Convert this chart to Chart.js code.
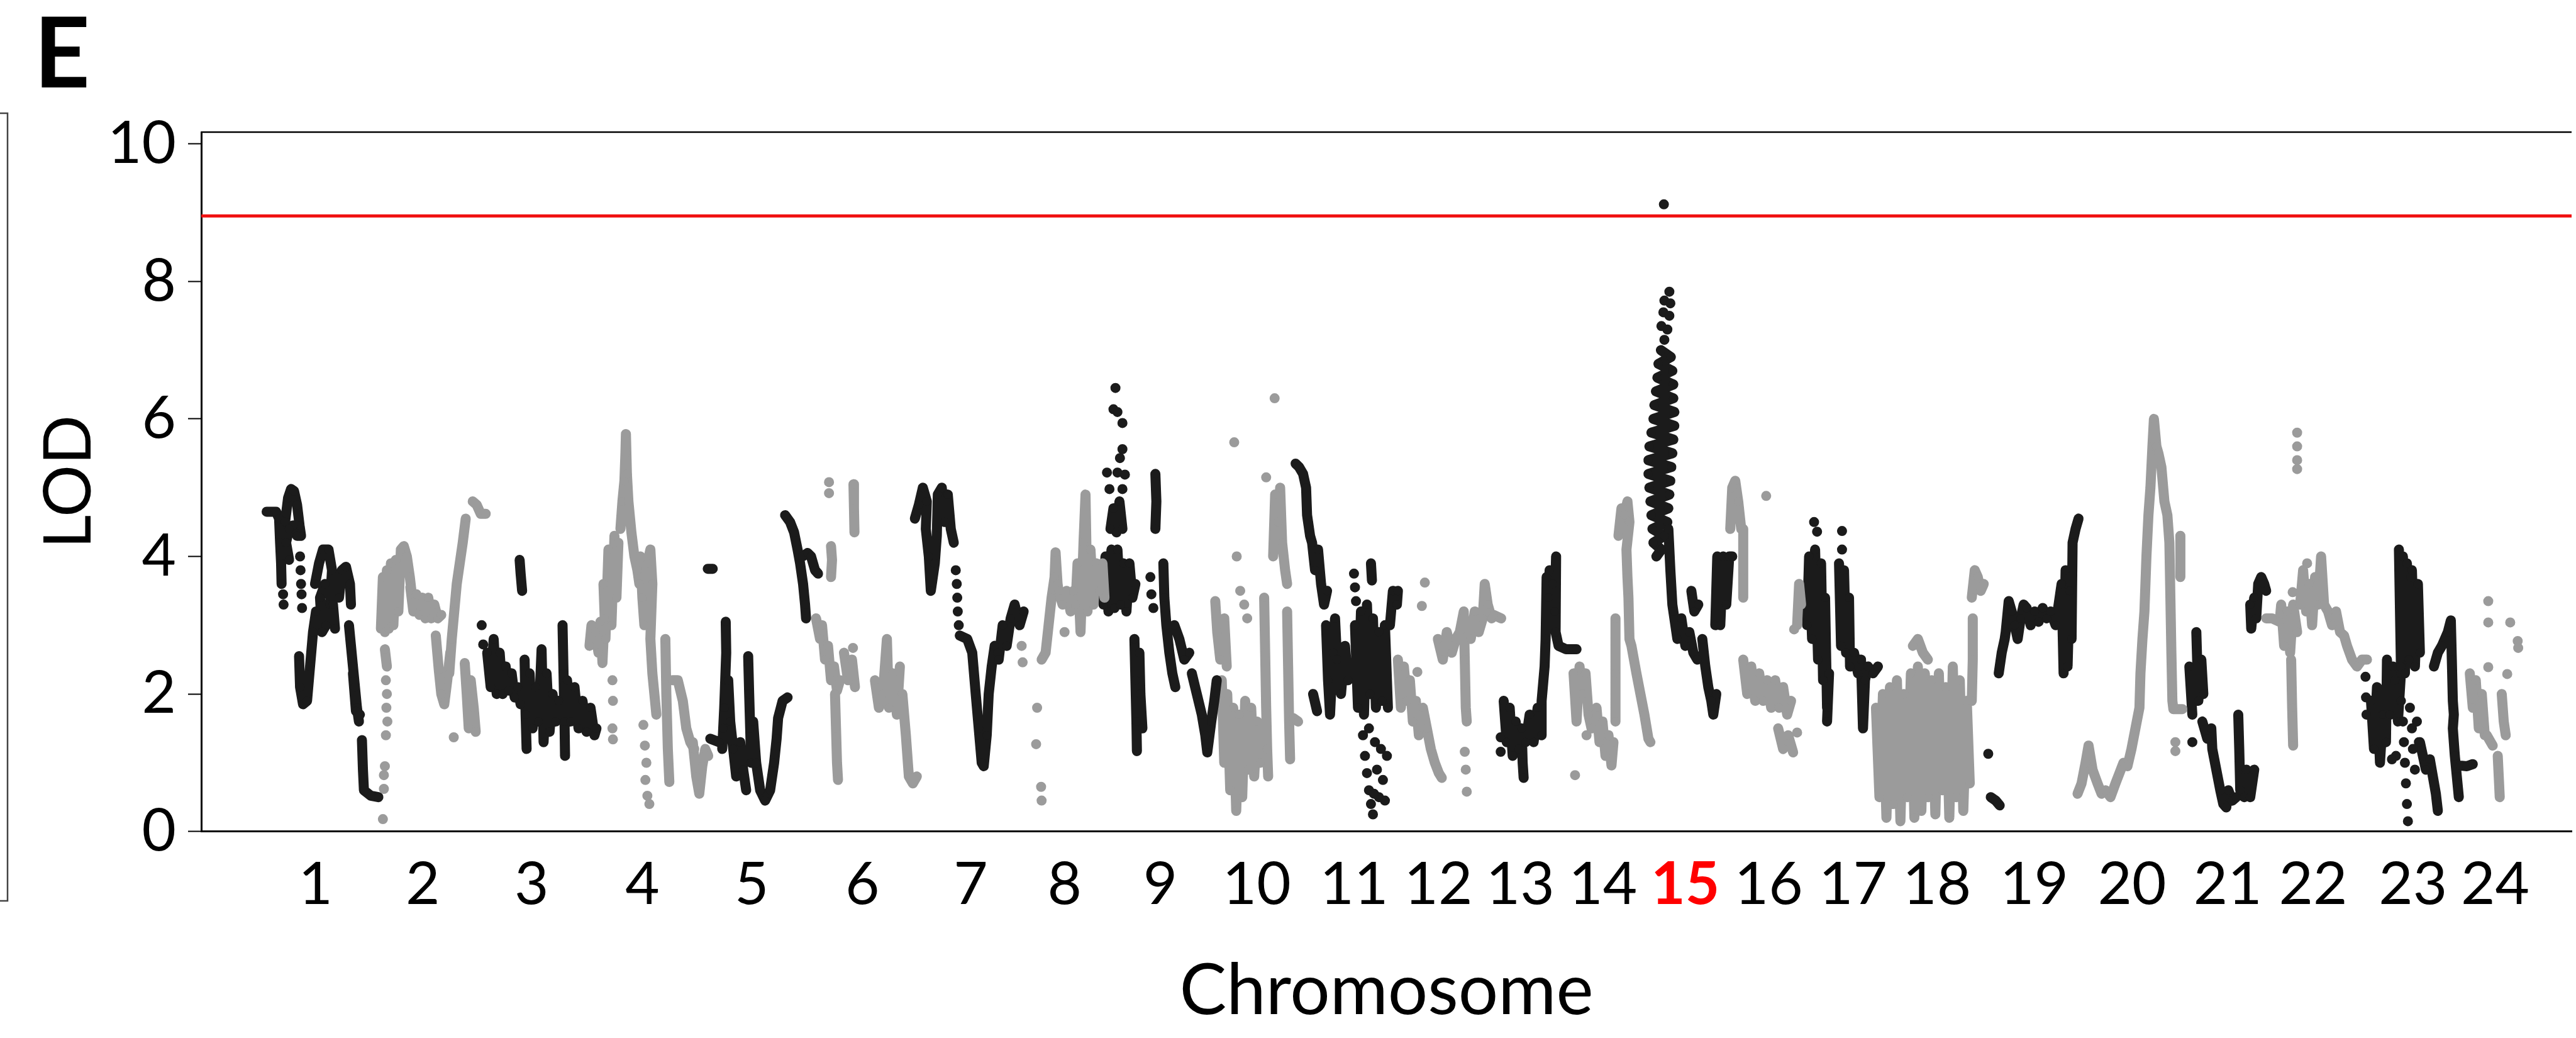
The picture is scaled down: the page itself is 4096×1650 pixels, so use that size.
<!DOCTYPE html>
<html>
<head>
<meta charset="utf-8">
<script src="https://cdn.jsdelivr.net/npm/chart.js@4.4.1/dist/chart.umd.min.js"></script>
<style>
  html, body { margin: 0; padding: 0; background: #fff; overflow: hidden; }
  canvas { display: block; }
</style>
</head>
<body>
<canvas id="lod" width="4096" height="1650"></canvas>
<script>
// genome position (cumulative, axis starts at 0) and LOD score per marker; null = gap in the trace
const chr1 = [[131,4.65],[150,4.65],[156,4.55],[158,4.2],[160,3.9],[161,3.6],null,[164,3.45],null,[165,3.3],null,
  [168,4.5],[174,4.85],[180,4.98],[186,4.95],[192,4.75],[197,4.45],[200,4.3],[192,4.3],[184,4.45],[176,4.4],[170,4.2],[176,3.95],null,
  [198,4.0],null,[199,3.8],null,[200,3.6],null,[201,3.45],null,[202,3.25],null,
  [196,2.55],[198,2.1],[204,1.85],[212,1.9],[218,2.4],[224,2.9],[230,3.2],null,
  [228,3.6],[236,3.9],[244,4.1],[255,4.1],[262,3.8],[258,3.3],[250,3.0],[242,2.9],[238,3.4],[248,3.6],[264,3.3],[268,2.95],null,
  [276,3.4],[282,3.8],[290,3.85],[298,3.6],[300,3.3],null,
  [296,3.0],[300,2.7],[304,2.4],[308,2.1],[312,1.8],[316,1.6],null,[304,2.3],[310,1.75],[318,1.7],null,
  [322,1.33],[324,0.9],[326,0.6],[340,0.52],[355,0.5]];
const chr2 = [[368,2.65],[372,2.4],null,[370,2.2],null,[372,2.0],null,[371,1.8],null,[373,1.6],null,[370,1.4],null,[368,0.95],null,[366,0.82],null,[366,0.62],null,[364,0.18],null,
  [360,2.95],[364,3.7],[368,2.9],[372,3.8],[376,2.95],[380,3.9],[385,3.0],[390,3.95],[395,3.2],[400,4.1],[406,4.15],[412,4.0],[418,3.7],[422,3.45],null,
  [419,3.55],[425,3.2],[431,3.45],[437,3.15],[443,3.4],[449,3.1],[455,3.4],[461,3.1],[467,3.3],[474,3.1],[481,3.15],null,
  [470,2.85],[476,2.35],[481,2.0],[487,1.85],[493,2.2],[499,2.6],null,[506,1.37],null,
  [497,2.3],[502,2.8],[507,3.2],[512,3.6],[518,3.9],[524,4.2],[530,4.55],null,
  [528,2.45],[532,2.0],[536,1.5],[540,2.2],[546,1.8],[550,1.45],null,
  [544,4.8],[552,4.75],[560,4.62],[570,4.62]];
const chr3 = [[562,3.0],null,[565,2.72],null,
  [573,2.6],[580,2.1],[586,2.8],[592,2.0],[598,2.6],[604,2.0],[610,2.4],[616,2.05],[622,2.3],[628,1.95],[634,2.1],[640,1.85],null,
  [638,3.95],[640,3.75],[643,3.5],null,
  [648,2.5],[650,1.7],[652,1.2],null,[658,2.3],[664,1.5],[670,2.1],[676,1.6],[682,2.65],[686,1.3],[692,2.3],[698,1.45],[704,2.0],[710,1.6],[716,1.9],null,
  [724,3.0],[726,2.3],[728,1.6],[729,1.1],null,
  [733,2.2],[740,1.6],[748,2.1],[756,1.5],[764,1.9],[772,1.45],[780,1.8],[788,1.4],[792,1.5]];
const chr4 = [[778,2.7],[782,3.0],[790,2.9],[796,2.6],[800,3.05],[804,2.45],[808,3.1],null,
  [806,3.6],[810,2.8],[816,4.1],[822,3.0],[828,4.3],[832,3.4],[836,4.2],null,
  [824,2.2],null,[825,1.9],null,[824,1.5],null,[825,1.34],null,
  [840,4.4],[844,4.8],[848,5.1],[850,5.5],[851,5.78],[853,5.2],[856,4.8],[862,4.35],[868,4.0],[874,3.8],[878,3.6],null,
  [880,4.0],[884,3.4],[888,3.0],[894,3.9],[900,4.1],[904,3.6],[900,2.8],[904,2.3],[908,2.0],[912,1.7],null,
  [886,1.55],null,[889,1.25],null,[892,1.0],null,[890,0.75],null,[894,0.52],null,[898,0.4],null,
  [930,2.8],[932,2.0],[935,1.2],[938,0.72],null,
  [944,2.2],[955,2.2],[965,1.9],[972,1.5],[980,1.3],[988,1.2],null,
  [985,1.3],[992,0.8],[998,0.55],[1004,0.95],[1010,1.2],[1016,1.1]];
const chr5 = [[1015,3.82],[1025,3.82],null,[1020,1.35],[1038,1.3],null,
  [1051,3.05],[1052,2.6],[1050,2.2],[1048,1.8],[1046,1.5],[1044,1.2],null,
  [1056,2.2],[1060,1.6],[1066,1.2],[1072,0.8],[1080,1.3],[1086,0.9],[1092,0.6],null,
  [1096,2.55],[1098,2.0],[1100,1.5],[1102,1.0],null,
  [1106,1.6],[1112,1.0],[1120,0.6],[1130,0.45],[1140,0.6],[1148,1.0],[1153,1.35],[1156,1.65],[1165,1.9],[1175,1.95],null,
  [1170,4.6],[1180,4.5],[1188,4.35],[1195,4.1],[1200,3.9],[1206,3.6],[1210,3.3],[1212,3.1],null,
  [1205,4.0],[1215,4.05],[1222,4.0],[1230,3.8],[1236,3.75]];
const chr6 = [[1232,3.1],[1240,2.8],[1244,3.0],[1250,2.5],[1256,2.7],[1262,2.2],[1268,2.4],[1274,2.05],[1280,2.2],null,
  [1258,5.08],null,[1258,4.92],null,[1262,4.15],[1264,3.95],[1262,3.7],null,
  [1270,2.0],[1272,1.5],[1274,1.0],[1276,0.75],null,
  [1288,2.6],[1296,2.2],[1304,2.5],[1310,2.1],null,
  [1307,5.05],[1308,4.7],[1309,4.35],null,[1306,2.67],null,
  [1350,2.2],[1358,1.8],[1366,2.0],[1374,2.8],[1378,1.8],[1386,2.3],[1394,1.7],[1400,2.4],null,
  [1405,2.0],[1412,1.4],[1418,0.8],[1426,0.7],[1434,0.8]];
const chr7 = [[1430,4.55],[1438,4.75],[1446,5.0],[1454,4.8],[1452,4.4],[1458,4.0],[1462,3.5],[1470,3.9],[1474,4.3],[1476,4.9],[1484,5.0],[1490,4.5],[1496,4.9],[1502,4.4],[1508,4.2],null,
  [1512,3.8],null,[1514,3.6],null,[1515,3.4],null,[1516,3.2],null,[1518,3.0],null,
  [1520,2.85],[1535,2.8],[1545,2.6],[1552,2.0],[1558,1.5],[1564,1.0],[1568,0.95],[1574,1.4],[1578,2.0],[1584,2.4],[1590,2.7],[1596,2.6],
  [1598,2.5],[1606,3.0],[1614,2.7],[1622,3.1],[1630,3.3],[1640,3.0],[1648,3.2]];
const chr8 = [[1644,2.7],null,[1646,2.46],null,[1675,1.8],null,[1673,1.27],null,[1683,0.65],null,[1684,0.45],null,
  [1684,2.5],[1692,2.6],[1698,3.0],[1704,3.4],[1710,3.7],[1712,4.06],[1716,3.6],[1718,3.5],[1726,3.3],[1734,3.5],[1742,3.2],[1748,3.5],null,
  [1730,2.9],null,
  [1752,3.3],[1756,3.9],[1762,2.9],[1768,4.2],[1772,4.9],[1776,3.2],[1782,4.1],[1788,3.3],[1794,3.9],[1800,3.5],[1806,3.9],[1810,3.4]];
const chr9 = [[1808,3.3],[1812,4.0],[1818,3.2],[1824,4.1],[1830,3.25],[1836,4.1],[1842,3.3],[1848,3.9],[1854,3.2],[1860,3.9],[1866,3.4],[1872,3.6],null,
  [1822,4.4],[1828,4.7],[1834,4.35],[1840,4.8],[1846,4.4],null,
  [1832,6.45],null,[1828,6.14],null,[1836,6.1],null,[1846,5.94],null,[1846,5.56],null,[1841,5.43],null,[1836,5.22],null,[1851,5.19],null,[1815,5.22],null,[1820,4.98],null,[1846,4.98],null,
  [1870,2.8],[1872,2.2],[1874,1.6],[1875,1.17],null,[1880,2.6],[1882,2.0],[1886,1.5],null,
  [1912,5.2],[1914,4.8],[1912,4.4],null,[1902,3.7],null,[1904,3.45],null,[1908,3.25],null,
  [1928,3.9],[1930,3.4],[1934,3.0],[1940,2.6],[1946,2.3],[1952,2.1],null,
  [1950,3.0],[1960,2.8],[1970,2.5],[1980,2.6],null,
  [1985,2.3],[1995,2.0],[2005,1.7],[2012,1.4],[2016,1.15],[2024,1.6],[2030,1.9],[2035,2.2]];
const chr10 = [[2032,3.35],[2036,2.9],[2042,2.5],[2050,3.1],[2055,2.4],null,
  [2045,2.2],[2050,1.0],[2056,2.0],[2062,0.6],[2068,1.8],[2074,0.3],[2080,1.7],[2086,0.5],[2092,1.9],[2098,0.9],[2104,1.8],[2110,0.8],[2116,1.6],[2122,1.0],null,
  [2070,5.66],null,[2075,4.0],null,[2082,3.5],null,[2090,3.3],null,[2096,3.1],null,
  [2130,3.4],[2132,2.6],[2134,1.8],[2136,1.2],[2138,0.8],null,
  [2134,5.15],null,[2151,6.3],null,
  [2148,4.0],[2152,4.9],[2158,4.5],[2162,5.0],[2166,4.2],[2172,3.8],[2176,3.6],null,
  [2176,3.2],[2178,2.4],[2180,1.6],[2182,1.05],null,[2188,1.65],[2198,1.6]];
const chr11 = [[2193,5.35],[2200,5.3],[2208,5.2],[2214,5.0],[2216,4.6],[2222,4.3],[2226,4.2],[2232,3.8],[2238,4.1],[2244,3.6],[2250,3.3],[2256,3.5],null,
  [2228,2.0],[2236,1.75],null,
  [2254,3.0],[2258,2.2],[2262,1.7],[2268,2.6],[2272,3.1],[2276,2.5],[2284,2.0],[2292,2.7],[2298,2.2],null,
  [2310,3.75],null,[2312,3.55],null,[2314,3.35],null,
  [2312,3.0],[2318,1.8],[2324,3.2],[2330,1.7],[2336,3.3],[2342,2.0],[2348,3.1],[2354,1.8],[2360,2.9],[2366,1.9],[2372,3.0],[2378,1.8],null,
  [2328,1.4],null,[2332,1.1],null,[2336,0.85],null,[2340,0.6],null,[2344,0.4],null,[2348,0.25],null,[2352,1.3],null,[2356,0.9],null,
  [2360,0.5],null,[2364,1.2],null,[2368,0.75],null,[2372,0.45],null,[2376,1.1],null,[2340,1.5],null,[2350,0.55],null,
  [2344,3.9],[2346,3.65],null,[2382,3.0],[2388,3.5],[2396,3.3],[2398,3.5]];
const chr12 = [[2398,2.5],[2404,1.8],[2410,2.4],[2416,1.9],[2422,2.2],[2428,1.6],[2434,1.9],[2440,1.4],null,
  [2452,3.62],null,[2446,3.28],null,[2437,2.32],null,
  [2448,1.8],[2456,1.5],[2464,1.2],[2472,1.0],[2480,0.85],[2486,0.78],null,
  [2478,2.8],[2488,2.5],[2496,2.9],[2506,2.6],[2514,2.8],[2522,2.9],[2530,3.2],[2532,2.5],[2534,1.8],[2536,1.6],null,
  [2532,1.16],null,[2534,0.9],null,[2536,0.58],null,
  [2544,2.8],[2552,3.2],[2560,2.9],[2568,3.1],[2572,3.6],[2578,3.3],[2586,3.1],[2590,3.15],[2605,3.1]];
const chr13 = [[2604,1.37],null,[2604,1.16],null,
  [2610,1.9],[2616,1.3],[2622,1.8],[2628,1.1],[2634,1.6],[2640,1.2],[2646,1.5],[2648,1.0],[2650,0.78],null,
  [2654,1.3],[2662,1.7],[2670,1.3],[2678,1.8],[2686,1.4],[2686,1.9],[2692,2.4],[2694,2.8],[2696,3.7],[2700,3.4],[2702,3.8],[2708,3.6],[2712,3.2],[2715,4.0],
  [2714,2.9],[2720,2.7],[2735,2.65],[2750,2.65],[2756,2.65]];
const chr14 = [[2750,2.3],[2756,1.6],[2762,2.4],[2768,2.0],[2774,2.3],[2780,1.7],[2786,1.5],null,
  [2753,0.82],null,[2776,1.4],null,
  [2796,1.8],[2802,1.3],[2808,1.6],[2814,1.1],[2820,1.4],[2826,0.96],[2830,1.3],null,
  [2834,3.1],[2834,2.3],[2834,1.6],null,
  [2840,4.3],[2846,4.7],[2852,4.6],[2858,4.8],[2862,4.5],[2856,4.1],[2858,3.7],[2860,3.4],[2862,2.8],[2866,2.7],[2876,2.3],[2884,2.0],[2892,1.7],[2900,1.35],[2904,1.3]];
const chr15 = [[2931,9.12],null,
  [2942,7.85],null,[2932,7.72],null,[2944,7.68],null,[2930,7.55],null,[2942,7.5],null,[2926,7.35],null,[2938,7.3],null,[2932,7.15],null,
  [2925,7.0],[2945,6.9],[2920,6.8],[2948,6.7],[2918,6.6],[2950,6.5],[2915,6.4],[2950,6.3],[2912,6.2],[2952,6.1],[2910,6.0],[2952,5.9],[2906,5.8],[2950,5.7],
  [2902,5.6],[2948,5.5],[2900,5.4],[2946,5.3],[2900,5.2],[2944,5.1],[2902,5.0],[2942,4.9],[2904,4.8],[2940,4.7],[2906,4.6],[2938,4.5],[2908,4.4],[2932,4.3],
  [2910,4.2],[2926,4.1],[2916,4.0],null,
  [2940,4.4],[2944,3.8],[2948,3.3],[2950,3.2],[2958,2.8],[2966,3.1],[2974,2.7],[2982,2.9],[2990,2.6],[2998,2.5],null,
  [2986,3.5],[2992,3.2],[3000,3.3],null,
  [3008,2.8],[3014,2.4],[3020,2.1],[3026,1.9],[3030,1.7],[3036,2.0],null,
  [3034,3.0],[3038,4.0],[3044,3.0],[3050,4.0],[3056,3.3],[3062,4.0],[3068,4.0]];
const chr16 = [[3064,4.4],[3068,5.0],[3074,5.1],[3080,4.8],[3086,4.4],[3090,4.4],[3090,3.8],[3090,3.4],null,
  [3136,4.88],null,
  [3090,2.5],[3098,2.0],[3106,2.4],[3114,1.9],[3122,2.3],[3130,1.9],[3138,2.2],[3146,1.8],[3154,2.2],[3162,1.8],[3170,2.1],[3178,1.7],[3186,1.9],null,
  [3160,1.5],[3170,1.2],[3180,1.4],[3190,1.15],null,[3192,2.94],null,
  [3198,3.0],[3202,3.6],[3206,3.3],null,[3198,1.44]];
const chr17 = [[3232,4.5],null,[3238,4.36],null,
  [3218,3.0],[3222,4.0],[3228,2.8],[3234,4.1],[3240,2.5],[3246,3.9],[3250,2.2],[3254,3.4],[3258,1.8],[3262,2.3],[3258,1.6],null,
  [3288,4.37],null,[3288,4.1],null,
  [3282,3.9],[3286,2.7],[3292,3.8],[3296,2.6],[3302,3.4],[3304,2.4],[3312,2.6],[3320,2.3],[3326,2.5],[3330,1.5],[3334,2.2],[3340,2.4],[3350,2.3],[3360,2.4]];
const chr18 = [[3356,1.8],[3363,0.5],[3370,2.0],[3377,0.2],[3384,2.1],[3391,0.4],[3398,2.2],[3405,0.15],[3412,2.0],[3419,0.5],[3426,2.3],[3433,0.2],[3440,2.4],
  [3447,0.3],[3454,2.3],[3461,0.5],[3468,2.2],[3475,0.25],[3482,2.3],[3489,0.6],[3496,2.1],[3503,0.2],[3510,2.4],[3517,0.5],[3524,2.2],[3531,0.3],[3538,1.9],[3544,0.7],null,
  [3430,2.7],[3440,2.8],[3450,2.6],[3460,2.5],null,
  [3550,3.1],[3550,2.5],[3548,1.9],null,
  [3548,3.4],[3554,3.8],[3560,3.7],[3566,3.5],[3572,3.6]];
const chr19 = [[3581,1.13],null,[3586,0.5],[3596,0.45],[3604,0.38],null,
  [3602,2.3],[3608,2.6],[3614,2.8],[3616,2.9],[3622,3.35],[3628,3.2],[3634,3.0],[3640,2.8],[3646,3.1],[3652,3.3],[3658,3.25],[3666,3.0],[3674,3.2],[3682,3.05],[3690,3.25],[3698,3.1],[3706,3.2],[3716,3.0],
  [3728,3.6],[3732,2.3],[3736,3.8],[3740,2.4],[3744,3.5],[3748,2.8],[3750,4.2],[3756,4.4],[3762,4.55]];
const chr20 = [[3760,0.55],[3768,0.7],[3776,1.0],[3782,1.25],[3790,0.9],[3800,0.7],[3808,0.55],[3816,0.6],[3826,0.5],[3836,0.7],[3844,0.85],[3852,1.0],[3860,0.95],[3868,1.2],[3876,1.5],[3884,1.8],
  [3886,2.3],[3890,2.8],[3894,3.2],[3898,4.0],[3902,4.6],[3906,5.0],[3910,5.6],[3913,6.0],[3918,5.6],[3922,5.5],[3928,5.3],[3934,4.8],[3940,4.6],[3944,4.2],[3946,3.4],[3948,2.6],[3950,1.9],[3952,1.78],[3970,1.78],null,
  [3966,4.3],[3966,3.7],null,[3956,1.3],null,[3956,1.17]];
const chr21 = [[3984,2.4],[3990,1.7],null,[3990,1.3],null,
  [3998,2.9],[4002,1.9],[4008,2.5],[4012,2.0],null,
  [4010,1.6],[4020,1.35],[4028,1.5],[4030,1.2],[4038,0.9],[4046,0.6],[4052,0.4],[4058,0.35],[4062,0.6],[4070,0.45],[4078,0.5],null,
  [4082,1.7],[4084,1.2],[4086,0.6],[4092,0.9],[4094,0.5],[4098,0.9],[4106,0.5],[4114,0.9],null,
  [4106,3.3],[4108,2.95],[4114,3.4],[4118,3.1],[4122,3.6],[4128,3.7],[4134,3.6],[4138,3.5]];
const chr22 = [[4138,3.1],[4150,3.1],[4165,3.05],[4168,3.3],[4174,2.7],[4180,3.2],[4186,2.6],[4192,3.3],[4200,2.9],null,
  [4188,2.5],[4190,1.8],[4192,1.25],null,[4191,3.48],null,
  [4200,5.8],null,[4200,5.6],null,[4200,5.4],null,[4200,5.27],null,
  [4206,3.3],[4212,3.8],[4218,3.2],[4224,3.6],[4230,3.0],[4236,3.7],[4242,3.3],[4248,4.0],[4254,3.3],[4262,3.2],[4270,3.0],[4278,3.2],[4286,2.9],[4294,2.85],
  [4300,2.7],[4310,2.5],[4320,2.4],[4330,2.5],[4340,2.5],null,[4220,3.9]];
const chr23 = [[4337,2.25],null,[4338,1.95],null,[4339,1.7],null,
  [4348,1.9],[4354,1.2],[4360,2.1],[4366,1.0],[4372,1.7],[4378,1.3],[4380,2.5],[4386,1.7],[4392,2.4],[4396,2.2],[4402,1.6],[4408,2.3],null,
  [4404,4.1],[4408,2.4],[4412,4.0],[4416,2.3],[4420,3.9],[4424,2.5],[4428,3.7],[4430,3.8],[4436,2.4],[4442,3.6],[4446,2.6],null,
  [4408,1.9],null,[4412,1.6],null,[4414,1.3],null,[4416,1.0],null,[4418,0.7],null,[4420,0.4],null,[4422,0.15],null,[4426,1.8],null,
  [4430,1.5],null,[4432,1.2],null,[4436,0.9],null,[4440,1.6],null,[4444,1.3],null,[4398,1.1],null,[4390,1.05],null,
  [4446,1.3],[4452,1.1],[4458,0.9],[4466,1.05],[4472,0.8],[4478,0.55],[4482,0.3],null,
  [4474,2.4],[4482,2.6],[4490,2.7],[4502,2.9],[4508,3.07],[4510,2.5],[4512,1.9],[4514,1.7],[4512,1.5],[4516,1.1],[4520,0.8],[4524,0.5],null,
  [4526,0.96],[4540,0.95],[4552,0.98]];
const chr24 = [[4546,2.3],[4552,1.8],[4558,2.2],[4564,1.5],[4570,2.0],[4576,1.4],[4580,1.4],[4592,1.25],null,
  [4583,3.35],null,[4583,3.04],null,[4583,2.39],null,
  [4602,1.1],[4604,0.8],[4606,0.5],null,[4610,2.0],[4614,1.6],[4618,1.4],null,
  [4627,3.04],null,[4642,2.77],null,[4643,2.67],null,[4621,2.29]];

const chromLabels = ["1","2","3","4","5","6","7","8","9","10","11","12","13","14","15","16","17","18","19","20","21","22","23","24"];
const labelPos = [229,444,662,884,1103,1325,1542,1730,1922,2115,2310,2479,2643,2809,2974,3141,3310,3478,3673,3869,4061,4232,4432,4597];
const yTicks = [0, 2, 4, 6, 8, 10];
const threshold = 8.95;
const genomeEnd = 4750;
const highlight = "15";

const chromosomes = [chr1,chr2,chr3,chr4,chr5,chr6,chr7,chr8,chr9,chr10,chr11,chr12,
  chr13,chr14,chr15,chr16,chr17,chr18,chr19,chr20,chr21,chr22,chr23,chr24];

function toPoints(arr) {
  const out = [];
  let lastX = 0;
  arr.forEach(p => {
    if (p === null) { out.push({x: lastX, y: null}); }
    else { out.push({x: p[0], y: p[1]}); lastX = p[0]; }
  });
  return out;
}

const datasets = [{
  label: "threshold",
  data: [{x: 0, y: threshold}, {x: genomeEnd, y: threshold}],
  borderColor: "#f01010",
  borderWidth: 5,
  pointRadius: 0
}];
chromosomes.forEach((c, i) => {
  const col = i % 2 === 0 ? "#1b1b1b" : "#9b9b9b";
  datasets.push({
    label: "Chr " + chromLabels[i],
    data: toPoints(c),
    borderColor: col,
    backgroundColor: col,
    borderWidth: 16,
    borderCapStyle: "round",
    borderJoinStyle: "round",
    pointRadius: 7,
    pointHoverRadius: 7,
    pointBorderWidth: 0,
    pointBackgroundColor: col,
    spanGaps: false
  });
});

const framePlugin = {
  id: "frame",
  afterDraw(chart) {
    const {ctx, chartArea: a} = chart;
    ctx.save();
    ctx.strokeStyle = "#000";
    ctx.lineWidth = 2.5;
    ctx.beginPath();
    ctx.moveTo(a.left, a.top);
    ctx.lineTo(a.right, a.top);
    ctx.stroke();
    // edge of the neighbouring panel
    ctx.strokeStyle = "#444";
    ctx.lineWidth = 2.5;
    ctx.beginPath();
    ctx.moveTo(0, 180);
    ctx.lineTo(12, 180);
    ctx.lineTo(12, 1432);
    ctx.lineTo(0, 1432);
    ctx.stroke();
    ctx.fillStyle = "#000";
    ctx.font = "bold 155px Lato";
    ctx.textBaseline = "alphabetic";
    ctx.textAlign = "left";
    ctx.fillText("E", 54, 139);
    ctx.restore();
  }
};

new Chart(document.getElementById("lod"), {
  type: "line",
  data: { datasets: datasets },
  options: {
    responsive: false,
    devicePixelRatio: 1,
    animation: false,
    layout: { padding: { top: 210, left: 0, right: 0, bottom: 7 } },
    plugins: { legend: { display: false }, tooltip: { enabled: false } },
    scales: {
      x: {
        type: "linear",
        min: 0,
        max: genomeEnd,
        afterBuildTicks: s => { s.ticks = labelPos.map(v => ({value: v})); },
        grid: { display: false, drawTicks: false },
        border: { display: true, color: "#000", width: 3 },
        ticks: {
          autoSkip: false,
          maxRotation: 0,
          padding: 28,
          callback: (v, i) => chromLabels[i],
          color: c => chromLabels[c.index] === highlight ? "#ff0000" : "#000",
          font: c => ({ family: "Lato", size: 94, weight: chromLabels[c.index] === highlight ? "bold" : "normal" })
        },
        title: {
          display: true,
          text: "Chromosome",
          color: "#000",
          font: { family: "Lato", size: 112 },
          padding: { top: 18, bottom: 0 }
        }
      },
      y: {
        type: "linear",
        min: 0,
        max: 10.17,
        afterBuildTicks: s => { s.ticks = yTicks.map(v => ({value: v})); },
        afterFit: s => { s.width = 320; },
        grid: { drawOnChartArea: false, drawTicks: true, tickLength: 21, tickWidth: 2, color: "#000" },
        border: { display: true, color: "#000", width: 3 },
        ticks: { padding: 19, color: "#000", font: { family: "Lato", size: 94 } },
        title: {
          display: true,
          text: "LOD",
          color: "#000",
          font: { family: "Lato", size: 104 },
          padding: { top: 48, bottom: 0 }
        }
      }
    }
  },
  plugins: [framePlugin]
});
</script>
</body>
</html>
